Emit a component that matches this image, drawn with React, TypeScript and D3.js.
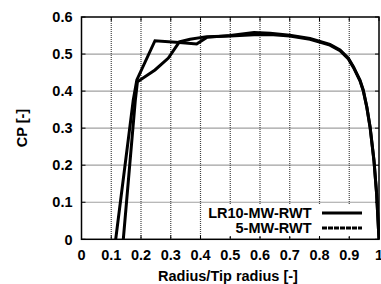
import React from "react";
import * as d3 from "d3";

const xTicks = [0, 0.1, 0.2, 0.3, 0.4, 0.5, 0.6, 0.7, 0.8, 0.9, 1];
const yTicks = [0, 0.1, 0.2, 0.3, 0.4, 0.5, 0.6];

const lrR = [0.115, 0.174, 0.186, 0.247, 0.329, 0.387, 0.421, 0.5, 0.58, 0.634, 0.7, 0.768, 0.835, 0.869, 0.897, 0.914, 0.936, 0.947, 0.959, 0.97, 0.983, 0.992, 1.0];
const lrCp = [0, 0.376, 0.43, 0.536, 0.531, 0.527, 0.545, 0.55, 0.558, 0.556, 0.551, 0.542, 0.526, 0.511, 0.489, 0.466, 0.43, 0.403, 0.358, 0.304, 0.214, 0.124, 0];

const fiveR = [0.1405, 0.181, 0.188, 0.247, 0.292, 0.329, 0.365, 0.421, 0.5, 0.58, 0.634, 0.7, 0.768, 0.835, 0.869, 0.897, 0.914, 0.936, 0.947, 0.959, 0.97, 0.983, 0.992, 1.0];
const fiveCp = [0, 0.376, 0.425, 0.457, 0.489, 0.533, 0.54, 0.547, 0.549, 0.552, 0.553, 0.549, 0.54, 0.524, 0.509, 0.487, 0.464, 0.428, 0.401, 0.356, 0.302, 0.212, 0.122, 0];

const series = [
  { name: "LR10-MW-RWT", r: lrR, cp: lrCp, dash: "" },
  { name: "5-MW-RWT", r: fiveR, cp: fiveCp, dash: "5,1" },
];

export default function App() {
  const W = 381, H = 284;
  const L = 81.5, R = 379, T = 17, B = 239.3;
  const x = d3.scaleLinear().domain([0, 1]).range([L, R]);
  const y = d3.scaleLinear().domain([0, 0.6]).range([B, T]);
  const line = d3.line<[number, number]>().x((d) => x(d[0])).y((d) => y(d[1]));
  const font = "'Liberation Sans', Arial, sans-serif";
  const fs = 14.5;
  return (
    <svg width={W} height={H} style={{ position: "absolute", left: 0, top: 0, background: "#fff" }} fontFamily={font} fontWeight="bold">
      <rect width={W} height={H} fill="#fff" />
      {xTicks.slice(1, -1).map((t) => (
        <line key={"gx" + t} x1={x(t)} x2={x(t)} y1={T} y2={B} stroke="#444" strokeWidth={1.2} strokeDasharray="1,1" />
      ))}
      {yTicks.slice(1, -1).map((t) => (
        <line key={"gy" + t} x1={L} x2={R} y1={y(t)} y2={y(t)} stroke="#444" strokeWidth={1.2} strokeDasharray="1,1" />
      ))}
      {xTicks.map((t) => (
        <g key={"tx" + t}>
          <line x1={x(t)} x2={x(t)} y1={B} y2={B - 4} stroke="#000" />
          <line x1={x(t)} x2={x(t)} y1={T} y2={T + 4} stroke="#000" />
          <text x={x(t)} y={260} textAnchor="middle" fontSize={fs}>{d3.format("")(t)}</text>
        </g>
      ))}
      {yTicks.map((t) => (
        <g key={"ty" + t}>
          <line x1={L} x2={L + 4} y1={y(t)} y2={y(t)} stroke="#000" />
          <line x1={R} x2={R - 4} y1={y(t)} y2={y(t)} stroke="#000" />
          <text x={72.5} y={y(t)} dy="0.36em" textAnchor="end" fontSize={fs}>{t === 0 ? "0" : t.toFixed(1)}</text>
        </g>
      ))}
      <rect x={204} y={204} width={162} height={32} fill="#fff" />
      <clipPath id="plotclip">
        <rect x={L} y={T} width={R - L + 1} height={B - T} />
      </clipPath>
      <g clipPath="url(#plotclip)">
        {series.map((s) => (
          <path key={s.name} d={line(s.r.map((r, i) => [r, s.cp[i]]) as [number, number][]) || ""} fill="none" stroke="#000" strokeWidth={3} strokeLinejoin="miter" />
        ))}
      </g>
      {series.map((s, i) => (
        <g key={"lg" + s.name}>
          <text x={311.5} y={218 + i * 15} textAnchor="end" fontSize={fs}>{s.name}</text>
          <line x1={322} x2={362} y1={213 + i * 15} y2={213 + i * 15} stroke="#000" strokeWidth={3} strokeDasharray={s.dash} />
        </g>
      ))}
      <rect x={L} y={T} width={R - L} height={B - T} fill="none" stroke="#000" strokeWidth={1.5} />
      <text transform={`translate(27,128) rotate(-90)`} textAnchor="middle" fontSize={fs}>CP [-]</text>
      <text x={228} y={281} textAnchor="middle" fontSize={fs}>Radius/Tip radius [-]</text>
    </svg>
  );
}
